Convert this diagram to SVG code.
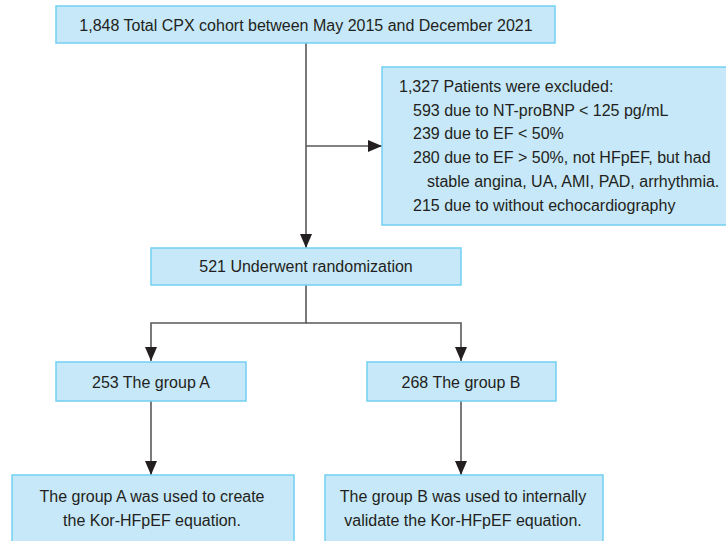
<svg xmlns="http://www.w3.org/2000/svg" width="726" height="541" viewBox="0 0 726 541">
<style>
.box{fill:#C6E8F8;stroke:#72CFF2;stroke-width:1.5}
.t{font-family:"Liberation Sans",Arial,sans-serif;font-size:16px;fill:#231F20}
.c{text-anchor:middle}
.ln{fill:none;stroke:#58595B;stroke-width:1.6}
</style>
<defs>
<marker id="ah" markerUnits="userSpaceOnUse" markerWidth="14" markerHeight="12" refX="14" refY="6" orient="auto">
<path d="M0,0 L14,6 L0,12 z" fill="#231F20"/>
</marker>
</defs>
<rect width="726" height="541" fill="#ffffff"/>
<g id="connectors">
<line class="ln" x1="306" y1="43" x2="306" y2="248" marker-end="url(#ah)"/>
<line class="ln" x1="306" y1="146" x2="382" y2="146" marker-end="url(#ah)"/>
<polyline class="ln" points="306,285 306,323 151,323 151,361" marker-end="url(#ah)"/>
<polyline class="ln" points="306,323 461,323 461,361" marker-end="url(#ah)"/>
<line class="ln" x1="151" y1="401" x2="151" y2="475" marker-end="url(#ah)"/>
<line class="ln" x1="461" y1="401" x2="461" y2="475" marker-end="url(#ah)"/>
</g>
<g id="total">
<rect class="box" x="56" y="6" width="499" height="37"/>
<text class="t c" x="306" y="31">1,848 Total CPX cohort between May 2015 and December 2021</text>
</g>
<g id="excluded">
<rect class="box" x="382" y="67" width="350" height="158"/>
<text class="t" x="399" y="92">1,327 Patients were excluded:</text>
<text class="t" x="413" y="115.5">593 due to NT-proBNP &lt; 125 pg/mL</text>
<text class="t" x="413" y="139">239 due to EF &lt; 50%</text>
<text class="t" x="413" y="163">280 due to EF &gt; 50%, not HFpEF, but had</text>
<text class="t" x="427" y="187">stable angina, UA, AMI, PAD, arrhythmia.</text>
<text class="t" x="413" y="211">215 due to without echocardiography</text>
</g>
<g id="randomization">
<rect class="box" x="151" y="248" width="310" height="37"/>
<text class="t c" x="306" y="272">521 Underwent randomization</text>
</g>
<g id="groupA">
<rect class="box" x="56" y="362" width="190" height="39"/>
<text class="t c" x="151" y="388">253 The group A</text>
</g>
<g id="groupB">
<rect class="box" x="367" y="362" width="189" height="39"/>
<text class="t c" x="461" y="388">268 The group B</text>
</g>
<g id="useA">
<rect class="box" x="12" y="475" width="282" height="70"/>
<text class="t c" x="152" y="502">The group A was used to create</text>
<text class="t c" x="152" y="526">the Kor-HFpEF equation.</text>
</g>
<g id="useB">
<rect class="box" x="325" y="475" width="278" height="70"/>
<text class="t c" x="463" y="502">The group B was used to internally</text>
<text class="t c" x="463" y="526">validate the Kor-HFpEF equation.</text>
</g>
</svg>
